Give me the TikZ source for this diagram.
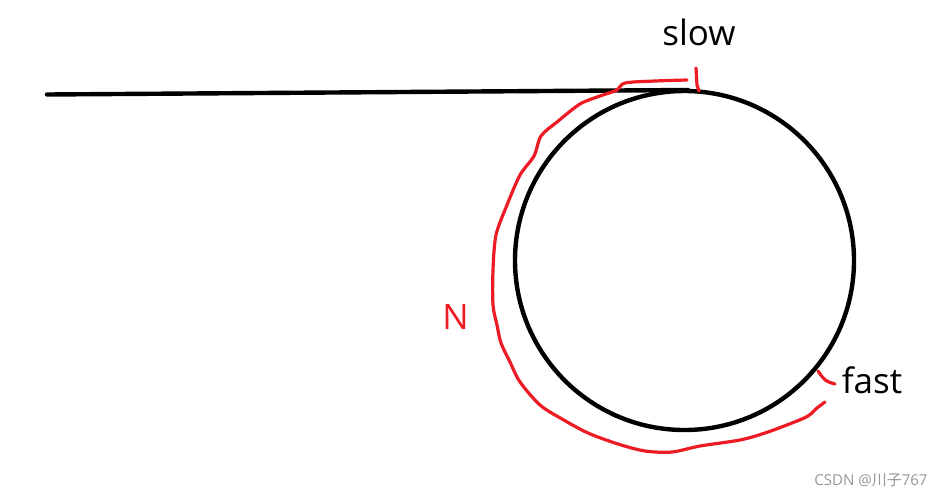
\documentclass[tikz,border=0pt]{standalone}
\usepackage{fontspec}
\setmainfont{Open Sans}
\newfontfamily\cjkfont{Noto Sans CJK SC}
\definecolor{penred}{RGB}{237,28,36}
\definecolor{markgray}{RGB}{150,150,150}
\begin{document}
\begin{tikzpicture}[x=1pt,y=-1pt,
  blackline/.style={line width=4.4pt,black,line cap=round},
  redline/.style={line width=3.2pt,penred,line cap=round,line join=round},
  label/.style={inner sep=0pt,font=\fontsize{35}{40}\selectfont},
]
\useasboundingbox (0,0) rectangle (942,496);
% straight line and circle
\coordinate (lineL) at (47,94.5);
\coordinate (lineR) at (688,90);
\draw[blackline] (lineL) -- (lineR);
\node[draw,circle,line width=4.4pt,minimum size=339pt,inner sep=0pt] (loop) at (684.5,260.5) {};
% red path N
\draw[redline] plot[smooth,tension=0.5] coordinates {
 (687,80) (655,81) (625,83) (617,90) (600,96) (580,104) (557,122) (541,136)
 (534,156) (520,175) (507,205) (496,235) (493,270) (493,305) (497,325) (501,343)
 (510,362) (520,382) (540,405) (562,419) (588,433) (618,444) (645,451) (672,452)
 (700,446) (740,440) (765,433) (792,423) (808,416) (817,408) (825,402)};
% ticks
\draw[redline] (696,68) -- (697,85) -- (699,91);
\draw[redline] (818,371) .. controls (825,381) .. (835,384);
% labels
\node[label,anchor=base] (slowlbl) at (699,45) {slow};
\node[label,anchor=base,text=penred] (nlbl) at (455.5,329) {N};
\node[label,anchor=base] (fastlbl) at (872,393) {fast};
\node[inner sep=0pt,anchor=base,text=markgray,font=\fontsize{15}{17}\selectfont] (mark) at (871,485) {CSDN @{\cjkfont 川子}767};
\end{tikzpicture}
\end{document}
